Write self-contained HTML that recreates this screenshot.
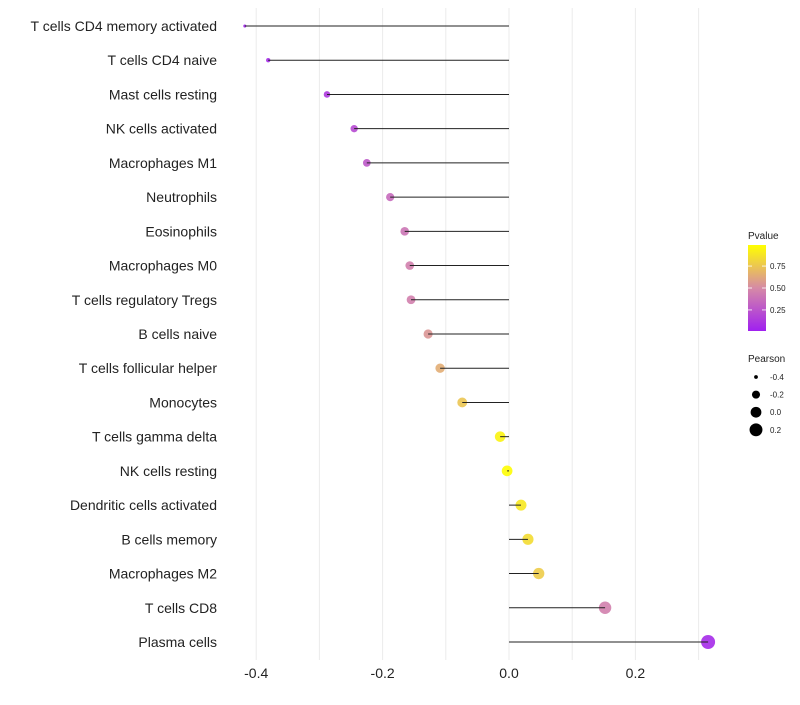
<!DOCTYPE html>
<html><head><meta charset="utf-8"><style>
body{margin:0;background:#fff;font-family:"Liberation Sans",sans-serif}
</style></head><body>
<svg id="chart" width="800" height="700" xmlns="http://www.w3.org/2000/svg"></svg>
<script>
const categories=["T cells CD4 memory activated","T cells CD4 naive","Mast cells resting","NK cells activated","Macrophages M1","Neutrophils","Eosinophils","Macrophages M0","T cells regulatory  Tregs ","B cells naive","T cells follicular helper","Monocytes","T cells gamma delta","NK cells resting","Dendritic cells activated","B cells memory","Macrophages M2","T cells CD8","Plasma cells"];
const pearson=[-0.418,-0.381,-0.288,-0.245,-0.225,-0.188,-0.165,-0.157,-0.155,-0.128,-0.109,-0.074,-0.014,-0.003,0.019,0.030,0.047,0.152,0.315];
const pvalue=[0.02,0.05,0.12,0.2,0.27,0.35,0.4,0.45,0.45,0.55,0.65,0.75,0.95,0.99,0.9,0.85,0.78,0.45,0.05];
const xTicks=[-0.4,-0.2,0.0,0.2];
const xTickLabels=["-0.4","-0.2","0.0","0.2"];
const colorTicks=[0.25,0.5,0.75];
const sizeTicks=[-0.4,-0.2,0.0,0.2];

const NS="http://www.w3.org/2000/svg";
const svg=document.getElementById('chart');
function X(v){return 509+v*632;}
function Y(i){return 26+i*(642-26)/(categories.length-1);}
function R(v){return Math.sqrt(Math.max(0.5,28.97+63.6*v));}
function col(p){
  const s=[[0,[160,32,240]],[0.5,[214,138,166]],[1,[255,255,0]]];
  let a=s[0],b=s[1];if(p>0.5){a=s[1];b=s[2];}
  const t=(p-a[0])/(b[0]-a[0]);
  const c=a[1].map((v,k)=>Math.round(v+(b[1][k]-v)*t));
  return `rgb(${c[0]},${c[1]},${c[2]})`;
}
function el(tag,attrs,parent){const e=document.createElementNS(NS,tag);for(const k in attrs)e.setAttribute(k,attrs[k]);(parent||svg).appendChild(e);return e;}

for(let v=-0.4;v<=0.301;v+=0.1){
  const g=el('line',{x1:X(v),x2:X(v),y1:8,y2:660,stroke:'#ebebeb','stroke-width':1});
  
  
}
xTicks.forEach((v,i)=>{
  const t=el('text',{x:X(v),y:678,'text-anchor':'middle','font-size':14,fill:'#222'});
  t.textContent=xTickLabels[i];
  
  
});
categories.forEach((c,i)=>{
  const t=el('text',{x:217,y:Y(i)+5,'text-anchor':'end','font-size':14,fill:'#222'});
  t.textContent=c;
  
  
  const d=el('circle',{cx:X(pearson[i]),cy:Y(i),r:R(pearson[i]),fill:col(pvalue[i]),'fill-opacity':0.9});
  
  
  const l=el('line',{x1:X(0),x2:X(pearson[i]),y1:Y(i),y2:Y(i),stroke:'#222','stroke-width':1});
  
  
});
const lt=el('text',{x:748,y:239,'font-size':10,fill:'#222'});lt.textContent='Pvalue';


const defs=el('defs',{});
const gr=el('linearGradient',{id:'pg',x1:0,y1:1,x2:0,y2:0},defs);
[0,0.25,0.5,0.75,1].forEach(p=>el('stop',{offset:p,'stop-color':col(p)},gr));
const bar=el('rect',{x:748,y:245,width:18,height:86,fill:'url(#pg)'});


function CY(p){return 331-(p-0.01)/0.98*86;}
colorTicks.forEach(p=>{
  el('line',{x1:748,x2:752,y1:CY(p),y2:CY(p),stroke:'#fff','stroke-width':0.8});
  el('line',{x1:762,x2:766,y1:CY(p),y2:CY(p),stroke:'#fff','stroke-width':0.8});
  const t=el('text',{x:770,y:CY(p)+3,'font-size':8,fill:'#222'});t.textContent=p.toFixed(2);
  
  
});
const st=el('text',{x:748,y:362,'font-size':10,fill:'#222'});st.textContent='Pearson';


sizeTicks.forEach((v,i)=>{
  const y=377+i*17.6;
  const c=el('circle',{cx:756,cy:y,r:R(v),fill:'#000'});
  
  
  const t=el('text',{x:770,y:y+3,'font-size':8,fill:'#222'});t.textContent=v.toFixed(1);
  
  
});
</script>
</body></html>
